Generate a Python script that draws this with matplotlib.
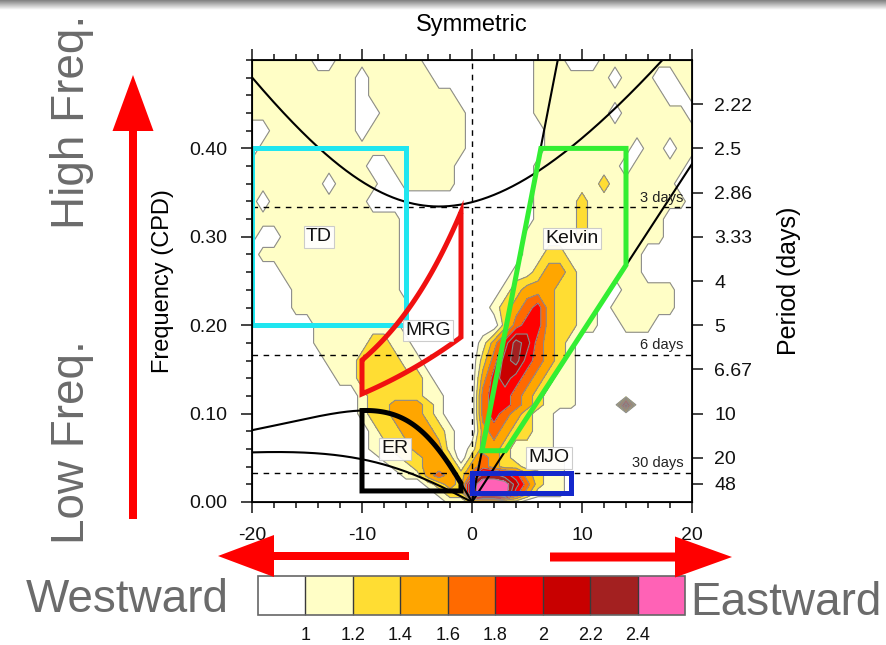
import numpy as np
import matplotlib
matplotlib.use("Agg")
import matplotlib.pyplot as plt
from matplotlib.patches import FancyArrow, Polygon, Rectangle
from matplotlib.ticker import MultipleLocator, FormatStrFormatter

plt.rcParams['font.family'] = ['Liberation Sans', 'DejaVu Sans']
plt.rcParams['axes.unicode_minus'] = False

# ---------------------------------------------------------------------------
# Normalized symmetric power on a (zonal wavenumber, frequency) grid
# ---------------------------------------------------------------------------
wavenumber = np.arange(-20, 21)
frequency = np.array([0.50, 0.48, 0.46, 0.44, 0.42, 0.40, 0.38, 0.36, 0.34, 0.32,
                      0.30, 0.28, 0.26, 0.24, 0.22, 0.20, 0.18, 0.16, 0.14, 0.12,
                      0.11, 0.10, 0.08, 0.06, 0.05, 0.04, 0.03, 0.02, 0.01, 0.00])

# power class per cell, columns k = -20 ... 20 (0: <1.0, 1: 1.0-1.2, ..., 8: >2.4)
power_class_rows = [
    "11111 10011 11111 10000 0 00000 11100 01111 11111",  # 0.50
    "11111 11111 01111 11000 0 00000 11111 11011 10011",  # 0.48
    "11111 11111 01111 11110 0 00000 11111 11111 11001",  # 0.46
    "11111 11111 00111 11111 0 00000 11111 11011 11110",  # 0.44
    "00111 11111 01111 11111 0 00000 01111 11111 11111",  # 0.42
    "01111 11111 11111 11111 0 00000 01111 11110 11011",  # 0.40
    "11111 11111 10011 11110 0 00000 11111 11101 11110",  # 0.38
    "11111 11011 11001 11110 0 00000 11111 12111 11100",  # 0.36
    "10111 11111 10000 00000 0 00000 11112 11111 11110",  # 0.34
    "11111 11111 11110 00000 0 00000 11112 11111 11000",  # 0.32
    "10011 11111 11110 00000 0 00001 11112 11111 11000",  # 0.30
    "01111 11111 11110 00000 0 00001 12211 11111 00000",  # 0.28
    "00011 11111 11110 00000 0 00011 23321 11111 00000",  # 0.26
    "00001 11111 11110 00000 0 00123 33221 11011 11100",  # 0.24
    "00001 11111 11111 00000 0 01234 53221 10111 11100",  # 0.22
    "00000 01111 11110 00000 0 00245 53221 10011 10000",  # 0.20
    "00000 01111 12211 00000 0 13576 43210 00000 00000",  # 0.18
    "00000 00111 22221 10000 0 24675 43210 00000 00000",  # 0.16
    "00000 00011 22222 21000 0 35654 32110 00000 00000",  # 0.14
    "00000 00000 12222 21100 0 45543 21110 00000 00000",  # 0.12
    "00000 00000 12233 32100 0 45543 21110 00070 00000",  # 0.11
    "00000 00000 12233 32100 0 45432 11000 00000 00000",  # 0.10
    "00000 00000 01223 33210 0 34322 11000 00000 00000",  # 0.08
    "00000 00000 01122 33310 1 33211 11000 00000 00000",  # 0.06
    "00000 00000 00112 23320 2 43211 11100 00000 00000",  # 0.05
    "00000 00000 00011 23331 3 43221 11100 00000 00000",  # 0.04
    "00000 00000 00001 13432 4 77653 21100 00000 00000",  # 0.03
    "00000 00000 00000 01232 7 88864 21100 00000 00000",  # 0.02
    "00000 00000 00000 00122 7 88853 11100 00000 00000",  # 0.01
    "00000 00000 00000 00011 2 22110 00000 00000 00000",  # 0.00
]
class_power = [0.85, 1.1, 1.3, 1.5, 1.7, 1.9, 2.1, 2.3, 2.55]

levels = [1.0, 1.2, 1.4, 1.6, 1.8, 2.0, 2.2, 2.4]
level_labels = ['1', '1.2', '1.4', '1.6', '1.8', '2', '2.2', '2.4']
fill_colors = ['#FFFFFF', '#FFFEC6', '#FFDD33', '#FFA600', '#FF6A00',
               '#FF0000', '#C80000', '#A32020', '#FF62B6']

# period axis
period_labels = ['2.22', '2.5', '2.86', '3.33', '4', '5', '6.67', '10', '20', '48']
period_values = [2.222, 2.5, 2.857, 3.333, 4.0, 5.0, 6.667, 10.0, 20.0, 48.0]
period_marks = [3, 6, 30]

# shallow-water dispersion curves
equivalent_depths = [8, 90]

# filter regions
td_k, td_f = (-20, -6), (0.20, 0.40)
mrg_k = (-10, -1)
er_k, er_floor = (-10, -1), 0.0125
kelvin_k = [0.91, 6.26, 14.0, 14.0, 3.04]
kelvin_f = [0.058, 0.40, 0.40, 0.268, 0.058]
mjo_k, mjo_f = (0, 9), (0.0104, 1 / 30)

region_names = ['TD', 'MRG', 'Kelvin', 'ER', 'MJO']
region_label_k = [-13.9, -4.0, 9.1, -7.0, 7.0]
region_label_f = [0.300, 0.194, 0.298, 0.060, 0.050]

# ---------------------------------------------------------------------------
G, A_EARTH = 9.81, 6.371e6
BETA = 2 * 7.292e-5 / A_EARTH


def to_cpd(omega):
    return omega * 86400.0 / (2 * np.pi)


def kelvin_freq(k, h):
    c = np.sqrt(G * h)
    return to_cpd(k / A_EARTH * c)


def er_freq(k, h, n=1):
    c = np.sqrt(G * h)
    kr = k / A_EARTH
    return to_cpd(-BETA * kr * c**2 / (kr**2 * c**2 + (2 * n + 1) * BETA * c))


def mrg_freq(k, h):
    c = np.sqrt(G * h)
    kr = k / A_EARTH
    return to_cpd(kr * c / 2 + np.sqrt((kr * c / 2) ** 2 + BETA * c))


def ig_freq(k, h, n=1):
    c = np.sqrt(G * h)
    out = []
    for kk in np.atleast_1d(k):
        kr = kk / A_EARTH
        roots = np.roots([1.0, 0.0, -(kr**2 * c**2 + (2 * n + 1) * BETA * c), -BETA * kr * c**2])
        out.append(np.max(roots.real))
    return to_cpd(np.array(out))


# ---------------------------------------------------------------------------
fig = plt.figure(figsize=(8.86, 6.45), dpi=100)
fig.patch.set_facecolor('white')

ax = fig.add_axes([252 / 886, 1 - 502 / 645, 440 / 886, 442 / 645])

power = np.array([[class_power[int(ch)] for ch in "".join(row.split())]
                  for row in power_class_rows])
K, F = np.meshgrid(wavenumber, frequency[::-1])
Z = power[::-1]

cf = ax.contourf(K, F, Z, levels=levels, colors=fill_colors, extend='both', zorder=1)
ax.contour(K, F, Z, levels=levels, colors='#8c8c8c', linewidths=0.8, zorder=2)

# reference lines
dash = (0, (4, 4))
ax.axvline(0, color='k', lw=1.0, ls=dash, zorder=3)
for p in period_marks:
    ax.axhline(1 / p, color='k', lw=1.0, ls=dash, zorder=3)
    ax.text(19.2, 1 / p + 0.006, f'{p} days', ha='right', va='baseline',
            fontsize=10.5, color='#222222', zorder=7)

# dispersion curves
k_pos = np.linspace(0, 20, 401)
k_neg = np.linspace(-20, 0, 401)
k_all = np.linspace(-20, 20, 801)
for h in equivalent_depths:
    ax.plot(k_pos, kelvin_freq(k_pos, h), color='k', lw=1.5, zorder=4)
    ax.plot(k_neg, er_freq(k_neg, h), color='k', lw=1.5, zorder=4)
ax.plot(k_all, ig_freq(k_all, equivalent_depths[0]), color='k', lw=1.5, zorder=4)

# filter regions
box_lw = 3.6
ax.add_patch(Rectangle((td_k[0], td_f[0]), td_k[1] - td_k[0], td_f[1] - td_f[0],
                       fill=False, ec='#20E6F0', lw=box_lw, zorder=5))

km = np.linspace(mrg_k[0], mrg_k[1], 60)
mrg_upper = mrg_freq(km, equivalent_depths[1])
mrg_lower = mrg_freq(km, equivalent_depths[0])
mrg_poly = np.vstack([np.column_stack([km, mrg_upper]),
                      np.column_stack([km[::-1], mrg_lower[::-1]])])
ax.add_patch(Polygon(mrg_poly, closed=True, fill=False, ec='#F01010', lw=box_lw,
                     joinstyle='miter', zorder=5))

ke = np.linspace(er_k[0], er_k[1], 60)
er_top = er_freq(ke, equivalent_depths[1])
er_poly = np.vstack([[er_k[0], er_floor], np.column_stack([ke, er_top]), [er_k[1], er_floor]])
ax.add_patch(Polygon(er_poly, closed=True, fill=False, ec='k', lw=box_lw,
                     joinstyle='miter', zorder=5))

ax.add_patch(Polygon(np.column_stack([kelvin_k, kelvin_f]), closed=True, fill=False,
                     ec='#33EE33', lw=box_lw, joinstyle='miter', zorder=5))

ax.add_patch(Rectangle((mjo_k[0], mjo_f[0]), mjo_k[1] - mjo_k[0], mjo_f[1] - mjo_f[0],
                       fill=False, ec='#1428CC', lw=box_lw, zorder=5))

for name, kx, fy in zip(region_names, region_label_k, region_label_f):
    ax.text(kx, fy, name, ha='center', va='center', fontsize=14, color='#111111', zorder=8,
            bbox=dict(boxstyle='square,pad=0.12', fc='white', ec='#c8c8c8', lw=0.8, alpha=0.92))

# axes styling
ax.set_xlim(-20, 20)
ax.set_ylim(0, 0.5)
ax.xaxis.set_major_locator(MultipleLocator(10))
ax.xaxis.set_minor_locator(MultipleLocator(2))
ax.yaxis.set_major_locator(MultipleLocator(0.1))
ax.yaxis.set_minor_locator(MultipleLocator(0.02))
ax.yaxis.set_major_formatter(FormatStrFormatter('%.2f'))
ax.set_yticks([0.0, 0.1, 0.2, 0.3, 0.4])
ax.tick_params(which='both', direction='out', top=True, right=False, width=1.1,
               labelsize=14, colors='#111111')
ax.tick_params(axis='x', which='major', length=8, pad=10)
ax.tick_params(axis='y', which='major', length=8, pad=10)
ax.tick_params(which='minor', length=4.5)
for s in ax.spines.values():
    s.set_linewidth(1.3)
ax.set_ylabel('Frequency (CPD)', fontsize=17, labelpad=11)
ax.set_title('Symmetric', fontsize=17, pad=21)

rax = ax.twinx()
rax.set_ylim(0, 0.5)
rax.set_yticks(1 / np.array(period_values))
rax.set_yticklabels(period_labels)
rax.tick_params(axis='y', direction='out', length=8, width=1.1, pad=8, labelsize=14,
                colors='#111111')
rax.set_ylabel('Period (days)', fontsize=18, labelpad=18)

# colour bar
cax = fig.add_axes([258 / 886, 1 - 615 / 645, 427 / 886, 39 / 645])
cb = fig.colorbar(cf, cax=cax, orientation='horizontal', extendrect=True,
                  extendfrac=1 / 7, drawedges=True, ticks=levels)
cb.ax.set_xticklabels(level_labels)
cb.ax.tick_params(length=0, labelsize=13, pad=9, colors='#111111')
cb.outline.set_edgecolor('#666666')
cb.outline.set_linewidth(1.2)
cb.dividers.set_color('#3a3a3a')
cb.dividers.set_linewidth(1.0)

# slide overlay: direction arrows and captions (pixel coordinates)
ov = fig.add_axes([0, 0, 1, 1], facecolor='none')
ov.set_xlim(0, 886)
ov.set_ylim(645, 0)
ov.axis('off')

band = np.linspace(0.5, 1.0, 40)[:, None] * np.ones((1, 10))
ov.imshow(band, extent=[0, 886, 10, 0], cmap='gray', vmin=0, vmax=1, aspect='auto', zorder=0)

red = '#FF0000'
ov.add_patch(FancyArrow(133, 519, 0, 75 - 519, width=8, head_width=41, head_length=56,
                        length_includes_head=True, color=red, lw=0))
ov.add_patch(FancyArrow(409, 556, 218 - 409, 0, width=8, head_width=42, head_length=56,
                        length_includes_head=True, color=red, lw=0))
ov.add_patch(FancyArrow(550, 557, 732 - 550, 0, width=9, head_width=41, head_length=57,
                        length_includes_head=True, color=red, lw=0))

grey = '#6b6b6b'
ov.text(72, 122, 'High Freq.', rotation=90, ha='center', va='center', fontsize=33, color=grey)
ov.text(72, 442, 'Low Freq.', rotation=90, ha='center', va='center', fontsize=33, color=grey)
ov.text(127, 612, 'Westward', ha='center', va='baseline', fontsize=33, color=grey)
ov.text(786, 615, 'Eastward', ha='center', va='baseline', fontsize=33, color=grey)

fig.savefig('out.png', dpi=100, facecolor='white')
